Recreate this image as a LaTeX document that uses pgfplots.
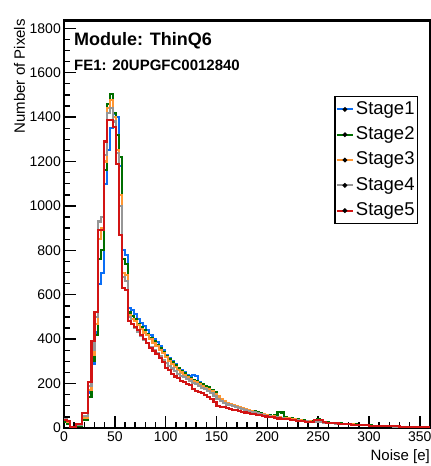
\documentclass[border=0pt]{standalone}
\usepackage{pgfplots}
\usepackage{pgfplotstable}
\usepackage{fontspec}
\setmainfont{Liberation Sans}
\pgfplotsset{compat=1.18}

\definecolor{cBlue}{RGB}{10,110,245}
\definecolor{cGreen}{RGB}{0,110,0}
\definecolor{cOrange}{RGB}{255,150,50}
\definecolor{cGray}{RGB}{150,150,150}
\definecolor{cRed}{RGB}{210,20,20}

% noise histograms, bin width 3 e (left edge), one column per stage
\pgfplotstableread{
x   s1   s2   s3   s4   s5
0   30   25   35   40   38
3   20   20   25   30   30
6   5    5    5    5    5
9   5    5    5    5    5
12  10   10   12   15   18
15  10   10   12   15   18
18  40   35   45   55   68
21  40   35   45   55   68
24  160  140  170  190  208
27  290  300  330  350  390
30  430  420  470  500  524
33  650  760  850  930  890
36  700  800  900  950  890
39  1100 1160 1200 1230 1290
42  1250 1460 1440 1420 1385
45  1350 1505 1475 1440 1385
48  1415 1420 1400 1380 1355
51  1400 1320 1250 1240 1190
54  1180 1220 1050 1000 870
57  800  760  700  680  630
60  780  740  690  660  620
63  540  520  510  500  480
66  530  505  490  470  470
69  515  492  480  450  455
72  490  470  462  432  440
75  472  456  447  415  420
78  458  440  430  398  402
81  440  422  418  382  384
84  420  405  400  365  362
87  402  392  383  352  346
90  388  375  368  338  332
93  370  358  350  322  316
96  350  340  336  308  298
99  330  325  318  292  272
102 315  310  302  280  262
105 300  296  290  268  244
108 286  282  276  255  232
111 272  270  262  245  226
114 262  258  250  236  212
117 250  246  240  228  206
120 238  236  230  220  200
123 232  226  220  212  192
126 238  218  212  204  176
129 234  210  206  198  168
132 205  202  198  190  164
135 192  196  190  182  156
138 180  190  182  174  150
141 170  185  175  166  141
144 158  172  165  156  130
147 146  160  155  146  116
150 132  146  142  130  98
153 124  132  130  120  96
156 118  122  120  112  93
159 112  114  114  106  89
162 108  110  110  102  86
165 104  104  104  98   82
168 98   100  98   94   80
171 94   96   94   90   77
174 92   90   88   86   73
177 86   86   84   82   70
180 82   82   80   78   67
183 78   78   76   74   65
186 74   75   72   70   62
189 70   72   68   66   59
192 66   68   64   62   58
195 62   64   61   59   55
198 58   60   58   56   52
201 55   58   56   53   50
204 52   56   53   50   48
207 50   60   51   48   45
210 48   72   49   46   43
213 46   70   47   44   42
216 44   50   45   42   40
219 42   46   43   40   39
222 40   44   41   38   38
225 38   41   39   36   35
228 36   39   37   34   32
231 34   36   35   32   30
234 33   34   33   31   30
237 31   33   31   30   28
240 30   32   30   29   28
243 29   31   29   28   27
246 28   36   28   27   35
249 27   40   28   27   36
252 26   30   27   26   36
255 25   28   25   24   25
258 24   26   24   23   24
261 23   24   23   22   23
264 22   23   22   21   22
267 21   22   21   20   22
270 20   21   20   19   20
273 19   20   19   18   18
276 18   19   18   17   17
279 17   18   17   16   16
282 16   17   16   15   15
285 15   16   15   14   14
288 14   15   15   14   14
291 13   14   14   13   13
294 13   13   13   12   13
297 12   12   12   12   12
300 11   12   11   11   11
303 10   11   10   10   10
306 10   10   10   9    10
309 9    10   9    9    9
312 9    9    9    8    9
315 8    9    8    8    9
318 8    8    8    7    8
321 7    8    7    7    8
324 7    7    7    6    7
327 6    7    6    6    7
330 6    6    6    6    6
333 6    6    6    5    6
336 5    6    5    5    6
339 5    5    5    5    5
342 5    5    5    4    5
345 4    5    4    4    5
348 4    4    4    4    4
351 4    4    4    3    4
354 3    4    3    3    4
357 3    3    3    3    3
360 3    3    3    3    3
}\noisedata

\begin{document}
\begin{tikzpicture}
\path[use as bounding box] (-64pt,-38pt) rectangle (367pt,428pt);
\begin{axis}[
    scale only axis,
    width=366pt,
    height=407.5pt,
    xmin=0, xmax=360,
    ymin=0, ymax=1835,
    xtick={0,50,...,350},
    ytick={0,200,...,1800},
    minor x tick num=4,
    minor y tick num=3,
    tick align=inside,
    xtick pos=bottom,
    ytick pos=left,
    major tick length=12pt,
    minor tick length=6pt,
    every tick/.style={black, line width=1.4pt},
    axis line style={line width=2.2pt},
    ticklabel style={font=\fontsize{14}{14}\selectfont},
    /pgf/number format/assume math mode=true,
    /pgf/number format/1000 sep={},
    yticklabel style={inner xsep=3pt},
    xticklabel style={inner ysep=4pt},
    xlabel={Noise [e]},
    xlabel style={at={(rel axis cs:1,0)}, anchor=north east, inner sep=0pt,
        yshift=-21pt, font=\fontsize{15}{15}\selectfont},
    ylabel={Number of Pixels},
    ylabel style={at={(rel axis cs:0,1)}, rotate=0, anchor=base east, inner sep=0pt,
        xshift=1.5pt, yshift=39pt, font=\fontsize{15}{15}\selectfont},
    every axis plot/.append style={line width=2.1pt, const plot mark left, mark=none},
    legend image code/.code={
        \draw[#1, line width=2pt] (0pt,0pt) -- (16pt,0pt);
        \fill[black] (8pt,0pt) circle (1.1pt);
    },
    legend style={
        at={(0.738,0.815)}, anchor=north west,
        draw=black, line width=1.6pt,
        font=\fontsize{18.5}{18.5}\selectfont,
        inner xsep=1pt, inner ysep=2.5pt,
        row sep=4.8pt,
        cells={anchor=west},
        nodes={inner xsep=2pt, text height=13pt, text depth=3.5pt},
    },
]
\addplot[cBlue]   table[x=x, y=s1] {\noisedata};
\addlegendentry{Stage1}
\addplot[cGreen]  table[x=x, y=s2] {\noisedata};
\addlegendentry{Stage2}
\addplot[cOrange] table[x=x, y=s3] {\noisedata};
\addlegendentry{Stage3}
\addplot[cGray]   table[x=x, y=s4] {\noisedata};
\addlegendentry{Stage4}
\addplot[cRed]    table[x=x, y=s5] {\noisedata};
\addlegendentry{Stage5}

\node[anchor=base west, font=\bfseries\fontsize{18}{18}\selectfont, inner sep=0pt]
    at ([xshift=10pt, yshift=-25.5pt]rel axis cs:0,1) {Module: ThinQ6};
\node[anchor=base west, font=\bfseries\fontsize{15}{15}\selectfont, inner sep=0pt]
    at ([xshift=10pt, yshift=-50.5pt]rel axis cs:0,1) {FE1: 20UPGFC0012840};
\end{axis}
\end{tikzpicture}
\end{document}
